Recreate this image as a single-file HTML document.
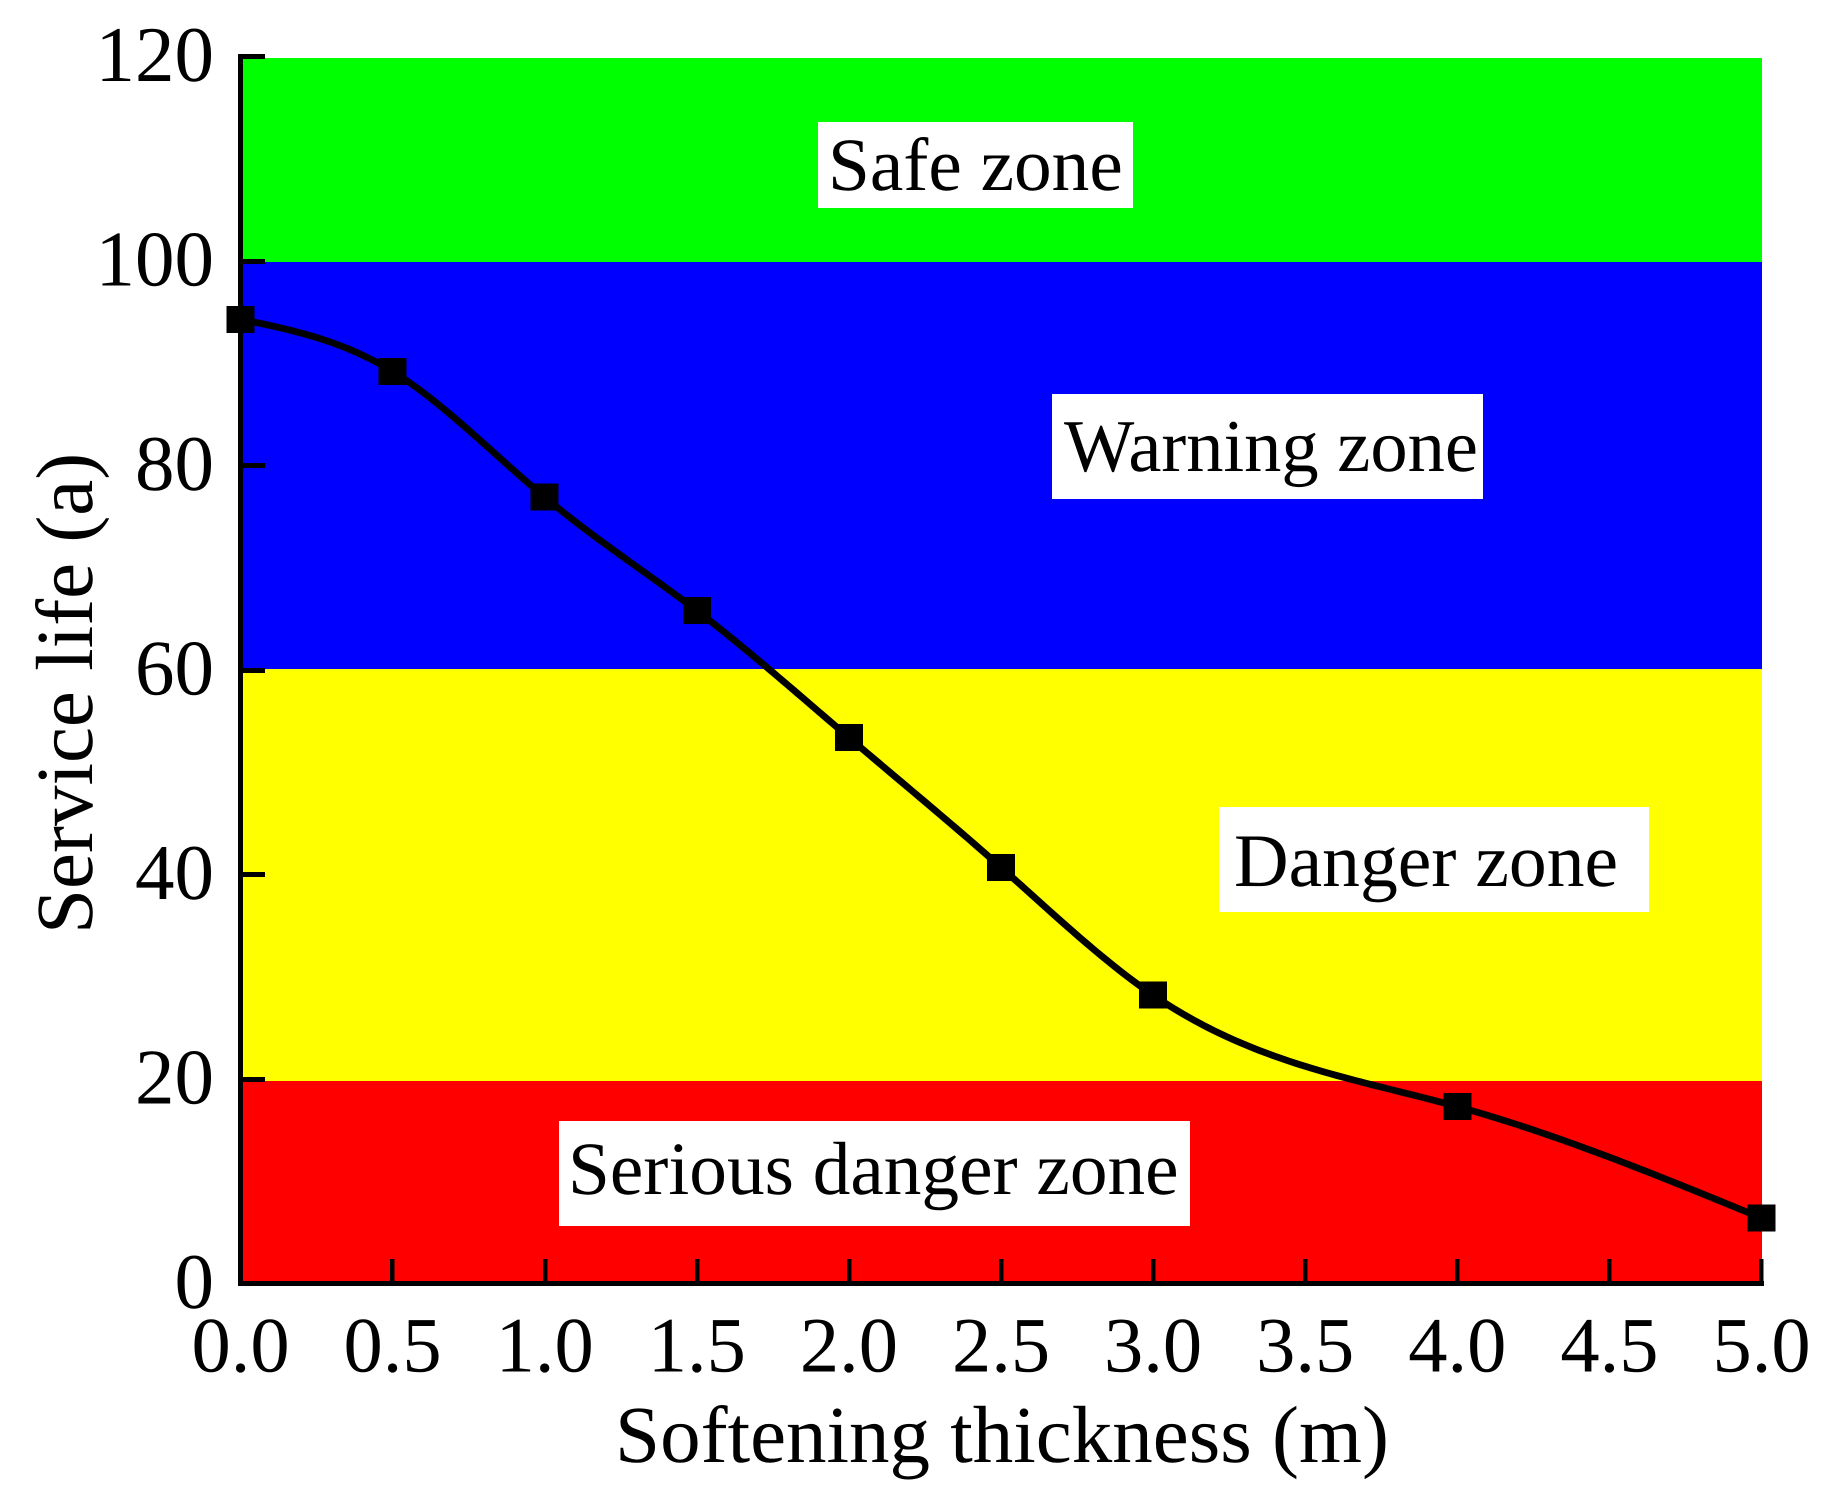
<!DOCTYPE html>
<html lang="en">
<head>
<meta charset="utf-8">
<title>Service life vs softening thickness</title>
<style>
html,body{margin:0;padding:0;background:#fff;width:1838px;height:1505px;overflow:hidden}
svg{display:block}
text{font-family:"Liberation Serif",serif;fill:#000;text-rendering:geometricPrecision}
</style>
</head>
<body>
<svg id="chart" xmlns="http://www.w3.org/2000/svg" width="1838" height="1505" viewBox="0 0 1838 1505">
  <rect x="0" y="0" width="1838" height="1505" fill="#fff"/>
  <g id="bands"></g>
  <g id="axes"></g>
  <g id="series"></g>
  <g>
    <rect x="818" y="122" width="315" height="86" fill="#fff"/>
    <text x="828" y="190" font-size="75.3">Safe zone</text>
  </g>
  <g>
    <rect x="1052" y="394" width="431" height="105" fill="#fff"/>
    <text x="1064" y="471" font-size="74.5">Warning zone</text>
  </g>
  <g>
    <rect x="1219" y="807" width="430" height="105" fill="#fff"/>
    <text x="1234" y="886" font-size="75.6">Danger zone</text>
  </g>
  <g>
    <rect x="559" y="1121" width="631" height="105" fill="#fff"/>
    <text x="568" y="1194" font-size="75.3">Serious danger zone</text>
  </g>
  <text x="1002" y="1462" font-size="81" text-anchor="middle">Softening thickness (m)</text>
  <text transform="translate(92,934) rotate(-90)" x="0" y="0" font-size="81">Service life (a)</text>
</svg>
<script>
const thickness = [0, 0.5, 1.0, 1.5, 2.0, 2.5, 3.0, 4.0, 5.0];
const serviceLife = [94.3, 89.2, 76.9, 65.8, 53.4, 40.7, 28.2, 17.3, 6.4];
const xTickValues = [0, 0.5, 1.0, 1.5, 2.0, 2.5, 3.0, 3.5, 4.0, 4.5, 5.0];
const xTickLabels = ["0.0", "0.5", "1.0", "1.5", "2.0", "2.5", "3.0", "3.5", "4.0", "4.5", "5.0"];
const yTickValues = [0, 20, 40, 60, 80, 100, 120];
const yTickLabels = ["0", "20", "40", "60", "80", "100", "120"];
const bandNames = ["safe-zone-band", "warning-zone-band", "danger-zone-band", "serious-danger-zone-band"];
const bandColors = ["#00ff00", "#0000ff", "#ffff00", "#ff0000"];
const bandEdges = [119.85, 99.9, 60.1, 19.8, -0.25];

const NS = "http://www.w3.org/2000/svg";
const xAxis = v => 240.5 + v * 304.2;
const yAxis = v => 1283.5 - v * 10.225;

function make(tag, parent, attrs) {
  const el = document.createElementNS(NS, tag);
  for (const k in attrs) el.setAttribute(k, attrs[k]);
  parent.appendChild(el);
  return el;
}

const bandsG = document.getElementById("bands");
bandNames.forEach((name, i) => {
  const top = Math.round(yAxis(bandEdges[i]));
  const bottom = Math.round(yAxis(bandEdges[i + 1]));
  const el = make("rect", bandsG, {
    x: 240, y: top, width: Math.floor(xAxis(5)) - 240 + 1,
    height: bottom - top, fill: bandColors[i],
    "shape-rendering": "crispEdges"
  });
  
  
});

const axesG = document.getElementById("axes");
const yLine = make("rect", axesG, {
  x: 238, y: 54, width: 5, height: 1232, fill: "#000", "shape-rendering": "crispEdges"
});


const xLine = make("rect", axesG, {
  x: 238, y: 1281, width: 1526, height: 5, fill: "#000", "shape-rendering": "crispEdges"
});



yTickValues.forEach((v, i) => {
  const t = make("rect", axesG, {
    x: 238, y: Math.round(yAxis(v) - 2.5), width: 27, height: 5,
    fill: "#000", "shape-rendering": "crispEdges"
  });
  
  
  const l = make("text", axesG, {
    x: 214, y: yAxis(v) + 24.5, "font-size": 79, "text-anchor": "end"
  });
  l.textContent = yTickLabels[i];
  
  
});

xTickValues.forEach((v, i) => {
  const t = make("rect", axesG, {
    x: Math.round(xAxis(v) - 2.2), y: 1259, width: 4.4, height: 27,
    fill: "#000", "shape-rendering": "crispEdges"
  });
  
  
  const l = make("text", axesG, {
    x: xAxis(v), y: 1371.5, "font-size": 78.5, "text-anchor": "middle"
  });
  l.textContent = xTickLabels[i];
  
  
});

function naturalSpline(xs, ys) {
  const n = xs.length;
  const m = new Array(n).fill(0);
  const u = new Array(n).fill(0);
  for (let i = 1; i < n - 1; i++) {
    const s = (xs[i] - xs[i - 1]) / (xs[i + 1] - xs[i - 1]);
    const p = s * m[i - 1] + 2;
    m[i] = (s - 1) / p;
    const d = (ys[i + 1] - ys[i]) / (xs[i + 1] - xs[i]) - (ys[i] - ys[i - 1]) / (xs[i] - xs[i - 1]);
    u[i] = (6 * d / (xs[i + 1] - xs[i - 1]) - s * u[i - 1]) / p;
  }
  for (let i = n - 2; i >= 0; i--) m[i] = m[i] * m[i + 1] + u[i];
  return t => {
    let k = 0;
    while (k < n - 2 && t > xs[k + 1]) k++;
    const h = xs[k + 1] - xs[k];
    const a = (xs[k + 1] - t) / h;
    const b = (t - xs[k]) / h;
    return a * ys[k] + b * ys[k + 1] + ((a * a * a - a) * m[k] + (b * b * b - b) * m[k + 1]) * h * h / 6;
  };
}

const seriesG = document.getElementById("series");
const curve = naturalSpline(thickness, serviceLife);
const first = thickness[0];
const last = thickness[thickness.length - 1];
const steps = 300;
let d = "";
for (let i = 0; i <= steps; i++) {
  const t = first + (last - first) * i / steps;
  d += (i ? "L" : "M") + xAxis(t).toFixed(2) + " " + yAxis(curve(t)).toFixed(2);
}
const path = make("path", seriesG, {
  d: d, fill: "none", stroke: "#000", "stroke-width": 6.8, "stroke-linejoin": "round"
});



thickness.forEach((v, i) => {
  const r = make("rect", seriesG, {
    x: xAxis(v) - 14, y: yAxis(serviceLife[i]) - 13.5, width: 28, height: 27,
    fill: "#000", "shape-rendering": "crispEdges"
  });
  
  
});
</script>
</body>
</html>
